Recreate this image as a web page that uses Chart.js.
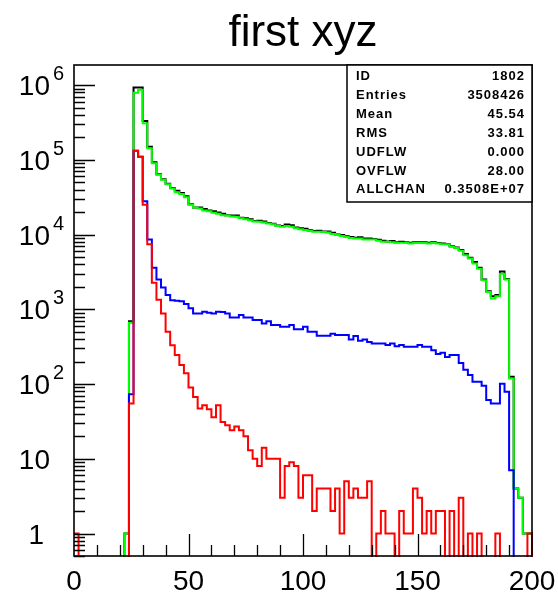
<!DOCTYPE html>
<html><head><meta charset="utf-8">
<script src="https://cdn.jsdelivr.net/npm/chart.js@4"></script>
<style>html,body{margin:0;padding:0;background:#fff;}#wrap{width:558px;height:595px;position:relative;}</style>
</head><body><div id="wrap"><canvas id="c" width="558" height="595"></canvas></div>
<script>
const chartTitle = 'first xyz';
const xMin = 0, xMax = 200, binWidth = 2;
const yMin = 0.5, yMax = 1.86e6;
const xTickValues = [0, 50, 100, 150, 200];
const xTickLabels = ['0', '50', '100', '150', '200'];
const yTickValues = [1, 10, 100, 1000, 10000, 100000, 1000000];
const yTickBase = ['1', '10', '10', '10', '10', '10', '10'];
const yTickExp = ['', '', '2', '3', '4', '5', '6'];
const statNames = ['ID', 'Entries', 'Mean', 'RMS', 'UDFLW', 'OVFLW', 'ALLCHAN'];
const statValues = ['1802', '3508426', '45.54', '33.81', '0.000', '28.00', '0.3508E+07'];

// bin contents, bins of width 2 from 0 to 200
const blackAll = [0,0,0,0,0,0,0,0,0,0, 0,1,690,9.3e5,9.3e5,3.3e5,1.5e5,9.3e4,6.4e4,5.5e4,
  4.8e4,4.2e4,3.85e4,3.6e4,3.25e4,2.55e4,2.3e4,2.3e4,2.2e4,2.1e4,
  2.05e4,1.98e4,1.9e4,1.82e4,1.8e4,1.8e4,1.68e4,1.66e4,1.6e4,1.52e4,
  1.53e4,1.5e4,1.43e4,1.4e4,1.32e4,1.3e4,1.36e4,1.33e4,1.24e4,1.22e4,
  1.2e4,1.14e4,1.12e4,1.13e4,1.1e4,1.1e4,1.06e4,1.0e4,9900,9500,
  9300,9100,9200,8900,8900,8700,8500,8300,8100,8200,
  7900,8000,7900,7800,7900,7900,7900,7800,7900,7700,
  7600,7500,7000,6700,6200,5500,4900,4300,3600,2500,
  1750,1500,1550,3200,2550,125,4,3,1,1];
const greenSel = [0,0,0,0,0,0,0,0,0,0, 0,1,660,7.9e5,8.7e5,3.1e5,1.43e5,9.0e4,6.3e4,5.4e4,
  4.7e4,4.15e4,3.7e4,3.5e4,3.15e4,2.5e4,2.3e4,2.24e4,2.1e4,2.05e4,
  1.96e4,1.9e4,1.82e4,1.8e4,1.75e4,1.73e4,1.65e4,1.6e4,1.55e4,1.5e4,
  1.48e4,1.45e4,1.41e4,1.38e4,1.3e4,1.27e4,1.3e4,1.27e4,1.22e4,1.18e4,
  1.15e4,1.12e4,1.09e4,1.09e4,1.08e4,1.07e4,1.02e4,9900,9600,9300,
  9000,8900,8900,8600,8600,8600,8300,8000,8000,7900,
  7800,7800,7800,7600,7700,7700,7700,7600,7700,7600,
  7400,7400,6900,6600,6100,5300,4800,4100,3500,2450,
  1700,1400,1500,3000,2500,119,4,3,1,1];
const blueSel = [0,0,0,0,0,0,0,0,0,0, 0,0,73,1.32e5,1.1e5,2.8e4,8600,3600,2500,1960,
  1550,1320,1300,1280,1180,1030,880,880,925,900,
  880,925,920,880,780,780,840,780,780,718,
  718,646,695,615,615,583,583,615,543,543,
  583,500,500,442,442,442,470,455,455,455,
  395,440,380,395,366,350,350,350,333,350,
  320,333,315,315,315,333,315,315,284,253,
  262,231,244,244,192,155,132,107,107,95,
  61,55,55,101,79,7,0,0,0,0];
const redSel = [1,0,0,0,0,0,0,0,0,0, 0,0,55,1.32e5,1.1e5,2.5e4,7400,2260,1340,880,
  500,330,244,180,139,90,67,47,52,46,
  36,52,31,28,24,27,24,20,13,10,
  8,14,10,10,10,3,8,9,8,3,
  6,6,2,4,4,4,2,4,1,5,
  3,4,3,3,5,0,1,2,1,1,
  0,2,1,1,4,3,1,2,1,2,
  2,0,2,0,3,0,1,0,1,0,
  0,0,1,0,0,0,0,0,0,1];

const zeroFloor = 0.1; // empty bins drawn below the axis minimum
function toSteps(values) {
  const pts = values.map((v, i) => ({ x: xMin + i * binWidth, y: v > 0 ? v : zeroFloor }));
  pts.push({ x: xMax, y: zeroFloor });
  return pts;
}
function ds(values, color) {
  return { data: toSteps(values), borderColor: color, borderWidth: 2, stepped: 'before',
    pointRadius: 0, fill: false, clip: 1, tension: 0 };
}

const decor = {
  id: 'decor',
  afterDatasetsDraw(chart) {
    const { ctx, chartArea: a, scales: { x, y } } = chart;
    ctx.save();
    ctx.strokeStyle = '#000';
    ctx.lineWidth = 1.3;
    ctx.beginPath();
    // y ticks (inside)
    const minorMult = [2, 3, 4, 5, 6, 7, 8, 9];
    const decades = [0.1].concat(yTickValues);
    decades.forEach(d => {
      if (d >= yMin && d <= yMax) {
        const py = Math.round(y.getPixelForValue(d)) + 0.5;
        ctx.moveTo(a.left, py); ctx.lineTo(a.left + 21, py);
      }
      minorMult.forEach(m => {
        const v = d * m;
        if (v < yMin || v > yMax) return;
        const py = Math.round(y.getPixelForValue(v)) + 0.5;
        ctx.moveTo(a.left, py); ctx.lineTo(a.left + 11, py);
      });
    });
    // x ticks (inside)
    for (let v = xMin + 10; v < xMax; v += 10) {
      const px = Math.round(x.getPixelForValue(v)) + 0.5;
      const len = xTickValues.includes(v) ? 22 : 11;
      ctx.moveTo(px, a.bottom); ctx.lineTo(px, a.bottom - len);
    }
    ctx.stroke();
    // frame
    ctx.lineWidth = 1.6;
    ctx.strokeRect(a.left, a.top, a.right - a.left, a.bottom - a.top);

    // tick labels
    ctx.fillStyle = '#000';
    ctx.font = '28px "Liberation Sans", Arial, sans-serif';
    ctx.textAlign = 'center';
    ctx.textBaseline = 'alphabetic';
    xTickValues.forEach((v, i) => {
      ctx.fillText(xTickLabels[i], x.getPixelForValue(v), a.bottom + 34);
    });
    yTickValues.forEach((v, i) => {
      const py = y.getPixelForValue(v);
      ctx.font = '28px "Liberation Sans", Arial, sans-serif';
      ctx.textAlign = 'right';
      ctx.fillText(yTickBase[i], yTickBase[i].length === 1 ? 44 : 50, py + 10);
      if (yTickExp[i]) {
        ctx.font = '20px "Liberation Sans", Arial, sans-serif';
        ctx.textAlign = 'left';
        ctx.fillText(yTickExp[i], 53, py - 5);
      }
    });

    // title
    ctx.font = '44px "Liberation Sans", Arial, sans-serif';
    ctx.textAlign = 'center';
    ctx.fillText(chartTitle, (a.left + a.right) / 2, 46);

    // stats box
    const bx = 347, by = a.top, bw = a.right - 347, bh = 137;
    ctx.fillStyle = '#fff';
    ctx.fillRect(bx, by, bw, bh);
    ctx.lineWidth = 1.5;
    ctx.strokeRect(bx, by, bw, bh);
    ctx.fillStyle = '#000';
    ctx.font = 'bold 13px "Liberation Sans", Arial, sans-serif';
    if ('letterSpacing' in ctx) ctx.letterSpacing = '1px';
    statNames.forEach((n, i) => {
      const ty = by + 15 + i * 18.9;
      ctx.textAlign = 'left';
      ctx.fillText(n, bx + 9, ty);
      ctx.textAlign = 'right';
      ctx.fillText(statValues[i], a.right - 7, ty);
    });
    ctx.restore();
  }
};

new Chart(document.getElementById('c'), {
  type: 'line',
  data: { datasets: [ds(redSel, '#ff0000'), ds(blueSel, '#0000ff'), ds(greenSel, '#00ff00'), ds(blackAll, '#000000')] },
  options: {
    responsive: false, animation: false, devicePixelRatio: 1,
    layout: { padding: { left: 74, top: 65, right: 26, bottom: 39 } },
    parsing: true,
    scales: {
      x: { type: 'linear', min: xMin, max: xMax, display: false },
      y: { type: 'logarithmic', min: yMin, max: yMax, display: false }
    },
    plugins: { legend: { display: false }, tooltip: { enabled: false }, title: { display: false } }
  },
  plugins: [decor]
});
</script></body></html>
